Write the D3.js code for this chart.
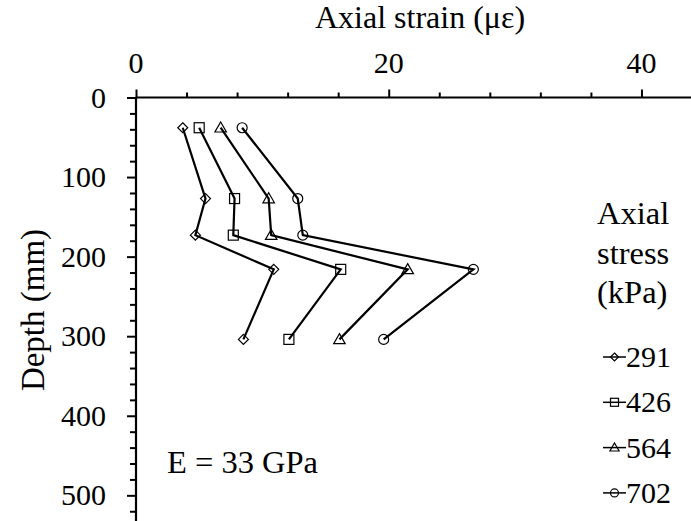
<!DOCTYPE html>
<html>
<head>
<meta charset="utf-8">
<script src="https://cdn.jsdelivr.net/npm/d3@7"></script>
<style>
  html, body { margin: 0; padding: 0; background: #fff; }
  svg { display: block; }
</style>
</head>
<body>
<svg id="chart" width="691" height="521"></svg>
<script>
// ---- data ----
const depths = [38, 127, 173, 216, 304];           // mm
const stressLabels = ["291", "426", "564", "702"];  // kPa
const strain291 = [3.7, 5.5, 4.7, 10.9, 8.5];
const strain426 = [5.0, 7.8, 7.7, 16.2, 12.1];
const strain564 = [6.7, 10.5, 10.7, 21.5, 16.1];
const strain702 = [8.4, 12.8, 13.2, 26.7, 19.6];
const markerTypes = ["diamond", "square", "triangle", "circle"];
const xMajorTicks = [0, 20, 40];
const yMajorTicks = [0, 100, 200, 300, 400, 500];

const FONT = "'Liberation Serif', 'Times New Roman', Times, serif";
const seriesValues = [strain291, strain426, strain564, strain702];
const series = stressLabels.map((s, i) => ({
  name: s, marker: markerTypes[i],
  points: depths.map((d, j) => ({ depth: d, strain: seriesValues[i][j] }))
}));

const svg = d3.select("#chart");
const x = d3.scaleLinear().domain([0, 44]).range([136, 692]);
const y = d3.scaleLinear().domain([0, 531]).range([97.5, 520]);

function txt(sel, size) {
  return sel.style("font-family", FONT).style("font-size", size + "px").attr("fill", "#000");
}

// ---- axes ----
const xMinor = d3.range(0, 45, 4);
const yMinor = d3.range(0, 531, 20);

const gx = svg.append("g").attr("transform", `translate(0,${y(0)})`);
gx.call(d3.axisTop(x).tickValues(xMinor).tickSize(5).tickFormat(""));
gx.call(g => g.selectAll(".tick line").filter(d => xMajorTicks.includes(d)).attr("y2", -8));
gx.selectAll("path.domain").attr("stroke-width", 2.2).attr("d", `M${x(0)},0H691`);
gx.selectAll(".tick line").attr("stroke-width", 2);
gx.selectAll(".tick text").remove();
txt(svg.append("g").selectAll("text").data(xMajorTicks).join("text")
  .attr("x", d => x(d)).attr("y", 73).attr("text-anchor", "middle"), 30).text(d => d);

const gy = svg.append("g").attr("transform", `translate(${x(0)},0)`);
gy.call(d3.axisLeft(y).tickValues(yMinor).tickSize(6).tickFormat(""));
gy.call(g => g.selectAll(".tick line").filter(d => yMajorTicks.includes(d)).attr("x2", -9));
gy.selectAll("path.domain").attr("stroke-width", 2.2).attr("d", `M0,${y(0)}V521`);
gy.selectAll(".tick line").attr("stroke-width", 2);
gy.selectAll(".tick text").remove();
txt(svg.append("g").selectAll("text").data(yMajorTicks).join("text")
  .attr("x", 106).attr("y", d => y(d) + 10).attr("text-anchor", "end"), 30).text(d => d);

// titles
txt(svg.append("text").attr("x", 420).attr("y", 28).attr("text-anchor", "middle"), 32)
  .text("Axial strain (με)");
txt(svg.append("text").attr("transform", "translate(44,310) rotate(-90)")
  .attr("text-anchor", "middle"), 33).text("Depth (mm)");
txt(svg.append("text").attr("x", 167).attr("y", 473), 32.5).text("E = 33 GPa");

// ---- markers ----
function drawMarker(g, type, cx, cy, s) {
  const common = el => el.attr("fill", "none").attr("stroke", "#000").attr("stroke-width", 1.2);
  if (type === "diamond") {
    common(g.append("path").attr("d", `M${cx},${cy - s}L${cx + s},${cy}L${cx},${cy + s}L${cx - s},${cy}Z`));
  } else if (type === "square") {
    common(g.append("rect").attr("x", cx - s).attr("y", cy - s).attr("width", 2 * s).attr("height", 2 * s));
  } else if (type === "triangle") {
    common(g.append("path").attr("d", `M${cx},${cy - s * 1.15}L${cx + s * 1.15},${cy + s * 0.85}L${cx - s * 1.15},${cy + s * 0.85}Z`));
  } else {
    common(g.append("circle").attr("cx", cx).attr("cy", cy).attr("r", s));
  }
}

const line = d3.line().x(d => x(d.strain)).y(d => y(d.depth));
series.forEach(s => {
  const g = svg.append("g");
  g.append("path").datum(s.points).attr("d", line)
    .attr("fill", "none").attr("stroke", "#000").attr("stroke-width", 2.2);
  s.points.forEach(p => drawMarker(g, s.marker, x(p.strain), y(p.depth), 5));
});

// ---- legend ----
const legTitle = ["Axial", "stress", "(kPa)"];
txt(svg.append("g").selectAll("text").data(legTitle).join("text")
  .attr("x", 597).attr("y", (d, i) => 224 + i * 39.5), 32.5).text(d => d);

series.forEach((s, i) => {
  const cy = 357 + i * 45.3;
  const g = svg.append("g");
  g.append("line").attr("x1", 603).attr("x2", 626).attr("y1", cy).attr("y2", cy)
    .attr("stroke", "#000").attr("stroke-width", 1.5);
  drawMarker(g, s.marker, 614.5, cy, 4);
  txt(g.append("text").attr("x", 626).attr("y", cy + 10), 30).text(s.name);
});
</script>
</body>
</html>
